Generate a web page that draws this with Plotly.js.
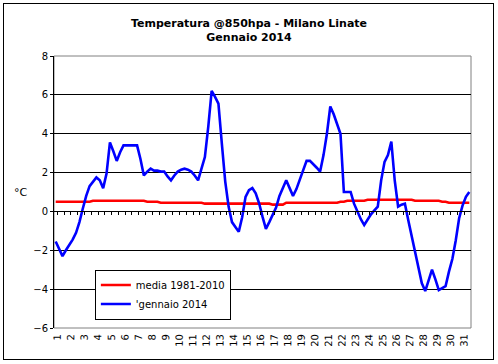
<!DOCTYPE html>
<html>
<head>
<meta charset="utf-8">
<script src="https://cdn.plot.ly/plotly-3.0.1.min.js"></script>
<style>
html,body{margin:0;padding:0;background:#fff;}
#wrap{position:relative;width:498px;height:364px;}
#chart{position:absolute;left:0;top:0;width:498px;height:364px;}
#frame{position:absolute;left:3px;top:3px;width:491px;height:357px;box-sizing:border-box;border:1px solid #000;pointer-events:none;}
</style>
</head>
<body>
<div id="wrap"><div id="chart"></div><div id="frame"></div></div>
<script>
// Day labels (first observation of each day, 6-hourly data)
const dayLabels = ['1','2','3','4','5','6','7','8','9','10','11','12','13','14','15','16',
  '17','18','19','20','21','22','23','24','25','26','27','28','29','30','31'];

// 'gennaio 2014 — 6-hourly 850 hPa temperature (°C)
const gennaio2014 = [
  -1.55,-1.9,-2.3,-2.0,-1.75,-1.45,-1.1,-0.55,0.15,0.8,
  1.3,1.5,1.75,1.6,1.2,1.95,3.55,3.1,2.6,3.05,
  3.4,3.4,3.4,3.4,3.4,2.7,1.85,2.05,2.2,2.1,
  2.1,2.05,2.05,1.8,1.6,1.85,2.05,2.15,2.2,2.15,
  2.05,1.85,1.6,2.2,2.8,4.35,6.2,5.9,5.55,3.5,
  1.55,0.25,-0.55,-0.8,-1.05,-0.3,0.75,1.1,1.2,0.93,
  0.42,-0.27,-0.9,-0.55,-0.2,0.2,0.8,1.25,1.6,1.2,
  0.8,1.15,1.6,2.1,2.6,2.6,2.45,2.25,2.05,2.9,
  4.0,5.4,5.0,4.5,4.0,1.0,1.0,1.0,0.4,-0.05,
  -0.4,-0.7,-0.4,-0.15,0.05,0.25,1.6,2.55,2.9,3.6,
  1.6,0.25,0.35,0.4,-0.45,-1.3,-2.15,-3.0,-3.7,-4.1,
  -3.55,-3.0,-3.5,-4.05,-3.95,-3.85,-3.1,-2.45,-1.5,-0.35,
  0.3,0.75,1.0
];

// media 1981-2010 — climatological mean (°C)
const media19812010 = [
  0.5,0.5,0.5,0.5,0.5,0.5,0.5,0.5,0.5,0.5,
  0.5,0.55,0.55,0.55,0.55,0.55,0.55,0.55,0.55,0.55,
  0.55,0.55,0.55,0.55,0.55,0.55,0.55,0.5,0.5,0.5,
  0.5,0.45,0.45,0.45,0.45,0.45,0.45,0.45,0.45,0.45,
  0.45,0.45,0.45,0.45,0.4,0.4,0.4,0.4,0.4,0.4,
  0.4,0.4,0.4,0.4,0.4,0.4,0.4,0.4,0.4,0.4,
  0.4,0.4,0.4,0.4,0.35,0.35,0.35,0.35,0.45,0.45,
  0.45,0.45,0.45,0.45,0.45,0.45,0.45,0.45,0.45,0.45,
  0.45,0.45,0.45,0.45,0.5,0.5,0.55,0.55,0.55,0.55,
  0.55,0.55,0.6,0.6,0.6,0.6,0.6,0.6,0.6,0.6,
  0.6,0.6,0.6,0.6,0.6,0.6,0.55,0.55,0.55,0.55,
  0.55,0.55,0.55,0.55,0.5,0.5,0.45,0.45,0.45,0.45,
  0.45,0.45,0.45
];

const yTicks = [-6,-4,-2,0,2,4,6,8];
const yGrid = [-4,-2,2,4,6];

const xIdx = gennaio2014.map((_, i) => i);
const dayTickPos = dayLabels.map((_, d) => d * 4);
const minorTickPos = [];
for (let k = 1; k < gennaio2014.length; k += 2) minorTickPos.push(k - 0.5);

const FONT = 'DejaVu Sans, Verdana, sans-serif';

const traces = [
  {x: xIdx, y: media19812010, type: 'scatter', mode: 'lines', name: 'media 1981-2010',
   line: {color: '#FF0000', width: 2.6}},
  {x: xIdx, y: gennaio2014, type: 'scatter', mode: 'lines', name: "'gennaio 2014",
   line: {color: '#0000FF', width: 2.6}}
];

const xRange = [-0.5, gennaio2014.length - 0.5];
const yRange = [-6, 8];

const layout = {
  width: 498, height: 364,
  margin: {l: 54, r: 27, t: 56, b: 36, pad: 0},
  paper_bgcolor: '#fff', plot_bgcolor: '#fff',
  font: {family: FONT, size: 10, color: '#000'},
  showlegend: true,
  title: {
    text: '<b>Temperatura @850hpa - Milano Linate<br>Gennaio 2014</b>',
    font: {family: FONT, size: 11, color: '#000'},
    x: 0.5, xref: 'container', xanchor: 'center',
    y: 1 - 27/364, yref: 'container', yanchor: 'middle'
  },
  xaxis: {
    range: xRange, showgrid: false, zeroline: false, showline: false,
    tickmode: 'array', tickvals: dayTickPos, ticktext: dayLabels,
    tickangle: -89.9, ticks: '', tickfont: {family: FONT, size: 10}
  },
  xaxis2: {
    overlaying: 'x', anchor: 'free', position: (0 - yRange[0]) / (yRange[1] - yRange[0]),
    range: xRange, showgrid: false, zeroline: false,
    showline: true, linecolor: '#000', linewidth: 1,
    tickmode: 'array', tickvals: minorTickPos, ticks: 'outside', ticklen: 3,
    tickcolor: '#000', tickwidth: 1, showticklabels: false
  },
  yaxis: {
    range: yRange, tickmode: 'array', tickvals: yTicks,
    showgrid: false, zeroline: false, showline: true, linecolor: '#000', linewidth: 1,
    ticks: 'outside', ticklen: 3, tickcolor: '#000', tickfont: {family: FONT, size: 10}
  },
  yaxis2: {
    overlaying: 'y', range: yRange, tickmode: 'array', tickvals: yGrid,
    showgrid: true, gridcolor: '#000', gridwidth: 1, zeroline: false,
    showticklabels: false, ticks: '', showline: false
  },
  shapes: [
    {type: 'rect', xref: 'paper', yref: 'paper', x0: 0, x1: 1, y0: 0, y1: 1,
     line: {color: '#808080', width: 1}, layer: 'below'}
  ],
  annotations: [
    {text: '°C', xref: 'paper', yref: 'paper', x: -0.08, y: (1 - yRange[0]) / (yRange[1] - yRange[0]),
     showarrow: false, font: {family: FONT, size: 11, color: '#000'}, xanchor: 'center', yanchor: 'middle'}
  ],
  legend: {
    x: 0.098, y: 0.215, xanchor: 'left', yanchor: 'top',
    bgcolor: '#fff', bordercolor: '#000', borderwidth: 1,
    font: {family: FONT, size: 10, color: '#000'}, tracegroupgap: 0
  }
};

// invisible helper trace binding the overlay axes
traces.push({x: [xRange[0]], y: [0], xaxis: 'x2', yaxis: 'y2', mode: 'markers',
  marker: {opacity: 0}, showlegend: false, hoverinfo: 'skip'});

Plotly.newPlot('chart', traces, layout, {displayModeBar: false, staticPlot: true});
</script>
</body>
</html>
